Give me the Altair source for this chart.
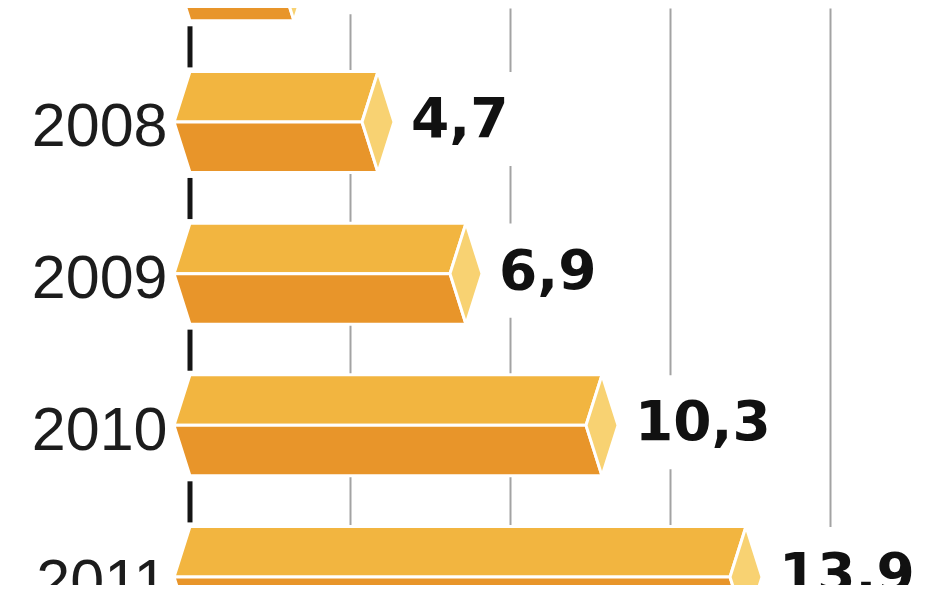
import altair as alt
import pandas as pd

# ---- data ----
years = [2007, 2008, 2009, 2010, 2011]
values = [2.6, 4.7, 6.9, 10.3, 13.9]
labels = ["2,6", "4,7", "6,9", "10,3", "13,9"]
grid_values = [4, 8, 12, 16]

# ---- style constants ----
H = 0.333   # half bar height (in row units)
S = 0.4     # slant of bar ends (in value units)
TOP_C, BOT_C, CAP_C = "#F2B540", "#E8952A", "#F8D272"

# polygon table for the 3D prisms, built from the values
rows = []
for yr, v in zip(years, values):
    rows += [dict(key=f"{yr}-top", part="top", y=yr - H, x=0.0, x2=v),
             dict(key=f"{yr}-top", part="top", y=yr, x=-S, x2=v - S)]
    rows += [dict(key=f"{yr}-bot", part="bottom", y=yr, x=-S, x2=v - S),
             dict(key=f"{yr}-bot", part="bottom", y=yr + H, x=0.0, x2=v)]
    rows += [dict(key=f"{yr}-cap", part="cap", y=yr - H, x=v, x2=v),
             dict(key=f"{yr}-cap", part="cap", y=yr, x=v - S, x2=v + S),
             dict(key=f"{yr}-cap", part="cap", y=yr + H, x=v, x2=v)]
shapes = pd.DataFrame(rows)
base_df = pd.DataFrame({"year": years, "value": values, "label": labels})

W, HT = 770, 577
xscale = alt.Scale(domain=[-0.5, (W - 20) / 40], nice=False, zero=False)
yscale = alt.Scale(domain=[2007.2484, 2011.0527], reverse=True, nice=False, zero=False)

xaxis = alt.Axis(values=grid_values, grid=True, gridColor="#a3a3a3", gridWidth=2,
                 labels=False, ticks=False, domain=False, title=None)
yaxis = alt.Axis(values=years, format="d", grid=False, ticks=False, tickSize=0,
                 domain=False, title=None, labelFont="Liberation Sans",
                 labelFontSize=61, labelColor="#1c1c1c", labelBaseline="alphabetic",
                 labelOffset=24, labelPadding=3, labelAlign="right", labelOverlap=False)

bars = alt.Chart(shapes).mark_area(
    orient="horizontal", stroke="white", strokeWidth=3, clip=True, opacity=1
).encode(
    y=alt.Y("y:Q", scale=yscale, axis=yaxis),
    x=alt.X("x:Q", scale=xscale, axis=xaxis, stack=None),
    x2="x2:Q",
    color=alt.Color("part:N", scale=alt.Scale(domain=["top", "bottom", "cap"],
                                              range=[TOP_C, BOT_C, CAP_C]), legend=None),
    detail="key:N",
)

axis_line = alt.Chart(base_df).transform_calculate(
    y1="datum.year + 0.369", y2="datum.year + 0.64", x0="0"
).mark_rule(color="#151515", strokeWidth=5, clip=True).encode(
    x=alt.X("x0:Q", scale=xscale),
    y=alt.Y("y1:Q", scale=yscale),
    y2="y2:Q",
)

label_bg = alt.Chart(base_df).transform_calculate(
    bx="datum.value + 0.42",
    bx2="datum.value + 0.9 + (length(datum.label) - 1) * 0.957 + 0.52 + 0.12",
    by="datum.year - 0.33",
    by2="datum.year + 0.29",
).mark_rect(color="white", clip=True).encode(
    x=alt.X("bx:Q", scale=xscale),
    x2="bx2:Q",
    y=alt.Y("by:Q", scale=yscale),
    y2="by2:Q",
)

text = alt.Chart(base_df).mark_text(
    align="left", baseline="alphabetic", dx=33, dy=15,
    font="DejaVu Sans", fontWeight="bold", fontSize=55, color="#111111"
).encode(
    x=alt.X("value:Q", scale=xscale),
    y=alt.Y("year:Q", scale=yscale),
    text="label:N",
)

chart = alt.layer(bars, axis_line, label_bg, text).properties(
    width=W, height=HT,
    padding={"left": 162, "top": 0, "right": 0, "bottom": 0},
    autosize=alt.AutoSizeParams(type="none"),
    background="white",
).configure_view(stroke=None)

chart.save("out.html", embed_options={"renderer": "svg", "actions": False})
